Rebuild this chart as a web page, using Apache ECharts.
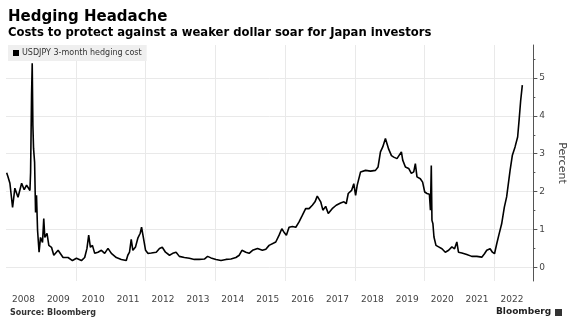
<!DOCTYPE html>
<html>
<head>
<meta charset="utf-8">
<script src="https://cdn.jsdelivr.net/npm/echarts@6/dist/echarts.min.js"></script>
<style>
html,body{margin:0;padding:0;background:#fff;}
#chart{width:575px;height:329px;}
</style>
</head>
<body>
<div id="chart"></div>
<script>
// ---- Data ----
const seriesName = 'USDJPY 3-month hedging cost';
const dates = [
'2008-01-08','2008-01-21','2008-02-11','2008-03-10','2008-04-03','2008-05-06','2008-06-13','2008-07-10','2008-08-04','2008-09-08',
'2008-09-15','2008-09-25','2008-10-02','2008-10-09','2008-10-16','2008-10-27','2008-11-06','2008-11-16','2008-11-27','2008-12-13',
'2008-12-28','2009-01-18','2009-01-31','2009-02-11','2009-03-06','2009-03-25','2009-04-22','2009-05-16','2009-06-30','2009-08-21',
'2009-10-12','2009-11-27','2010-01-08','2010-03-01','2010-04-04','2010-04-28','2010-05-16','2010-06-03','2010-06-24','2010-07-18',
'2010-08-21','2010-09-26','2010-10-30','2010-12-04','2011-01-08','2011-03-01','2011-04-22','2011-06-13','2011-06-29','2011-07-17',
'2011-08-04','2011-08-21','2011-09-18','2011-10-12','2011-11-06','2011-11-20','2011-12-10','2012-01-01','2012-01-25','2012-03-01',
'2012-04-22','2012-05-26','2012-06-24','2012-07-28','2012-09-08','2012-10-12','2012-11-16','2012-12-20','2013-02-11','2013-04-04',
'2013-05-26','2013-07-17','2013-09-08','2013-10-12','2013-11-16','2014-01-08','2014-03-01','2014-04-22','2014-06-13','2014-08-04',
'2014-09-08','2014-10-06','2014-11-16','2014-12-20','2015-01-25','2015-03-18','2015-05-08','2015-06-13','2015-07-17','2015-08-04',
'2015-09-25','2015-10-30','2015-11-27','2015-12-20','2016-01-14','2016-02-11','2016-03-17','2016-04-22','2016-05-26','2016-06-29',
'2016-08-03','2016-09-08','2016-10-12','2016-11-09','2016-12-03','2017-01-08','2017-01-31','2017-03-01','2017-03-28','2017-05-08',
'2017-06-19','2017-08-04','2017-09-08','2017-10-02','2017-10-23','2017-11-27','2017-12-20','2018-01-08','2018-01-25','2018-03-01',
'2018-04-22','2018-06-13','2018-08-04','2018-08-31','2018-09-25','2018-10-19','2018-11-16','2018-12-20','2019-01-18','2019-02-11',
'2019-03-17','2019-04-04','2019-05-02','2019-05-16','2019-06-13','2019-07-17','2019-08-14','2019-09-08','2019-09-25','2019-10-12',
'2019-11-16','2019-12-10','2020-01-01','2020-01-25','2020-02-19','2020-03-01','2020-03-10','2020-03-17','2020-03-27','2020-04-07',
'2020-04-28','2020-05-26','2020-06-30','2020-08-04','2020-09-08','2020-10-12','2020-11-09','2020-12-03','2020-12-20','2021-01-25',
'2021-03-17','2021-05-08','2021-06-30','2021-08-21','2021-09-18','2021-10-12','2021-11-16','2021-12-10','2022-01-01','2022-01-25',
'2022-02-19','2022-03-17','2022-04-14','2022-05-08','2022-05-26','2022-06-13','2022-07-07','2022-08-04','2022-08-31','2022-09-15',
'2022-10-02','2022-10-19'
];
const hedgingCost = [
2.50,2.40,2.22,1.58,2.09,1.85,2.22,2.05,2.17,2.03,
2.51,4.54,5.39,3.75,3.14,2.77,1.45,1.90,0.98,0.40,
0.79,0.66,1.29,0.79,0.90,0.58,0.53,0.32,0.45,0.26,
0.26,0.18,0.24,0.18,0.26,0.50,0.85,0.53,0.58,0.37,
0.40,0.45,0.37,0.50,0.37,0.26,0.21,0.18,0.32,0.40,
0.74,0.45,0.54,0.77,0.90,1.06,0.77,0.45,0.37,0.38,
0.40,0.50,0.53,0.40,0.32,0.37,0.40,0.29,0.26,0.24,
0.21,0.21,0.22,0.29,0.25,0.21,0.18,0.21,0.22,0.26,
0.32,0.45,0.40,0.37,0.45,0.50,0.45,0.48,0.58,0.54,
0.67,0.85,1.02,0.93,0.85,1.06,1.08,1.06,1.20,1.37,
1.55,1.55,1.64,1.73,1.88,1.73,1.51,1.61,1.42,1.55,
1.64,1.70,1.73,1.68,1.95,2.03,2.21,1.90,2.17,2.52,
2.56,2.54,2.56,2.65,3.05,3.18,3.40,3.12,2.95,2.91,
2.87,2.87,3.05,2.83,2.65,2.61,2.48,2.52,2.74,2.39,
2.34,2.25,1.99,1.95,1.93,1.51,2.69,1.24,1.15,0.80,
0.58,0.54,0.49,0.40,0.45,0.54,0.49,0.67,0.40,0.38,
0.34,0.29,0.29,0.27,0.36,0.45,0.49,0.40,0.36,0.63,
0.89,1.15,1.59,1.86,2.21,2.56,2.96,3.18,3.44,3.88,
4.41,4.81
];
const xTickLabels = ['2008','2009','2010','2011','2012','2013','2014','2015','2016','2017','2018','2019','2020','2021','2022'];
const xGridYears = [2010,2012,2014,2016,2018,2020,2022];
const yTickLabels = [0,1,2,3,4,5];
const yMinorTicks = [0.5,1.5,2.5,3.5,4.5,5.5];

// ---- helpers ----
function toYear(s){
  const d = new Date(s + 'T00:00:00Z');
  const y = d.getUTCFullYear();
  const a = Date.UTC(y,0,1), b = Date.UTC(y+1,0,1);
  return y + (d.getTime()-a)/(b-a);
}
const lineData = dates.map((d,i)=>[toYear(d), hedgingCost[i]]);
const FONT = '"DejaVu Sans", Verdana, sans-serif';

const chart = echarts.init(document.getElementById('chart'), null, {renderer:'canvas'});
chart.setOption({
  animation:false,
  backgroundColor:'#ffffff',
  grid:{left:6, right:40, top:45, bottom:48, containLabel:false},
  legend:{
    show:true, left:8, top:45, padding:[4,5,4,5],
    backgroundColor:'#efefef',
    icon:'rect', itemWidth:6, itemHeight:6, itemGap:4,
    textStyle:{fontFamily:FONT, fontSize:8, color:'#333', padding:[0,0,0,-2]},
    data:[seriesName]
  },
  xAxis:{
    type:'value', min:2008, max:2023.114,
    axisLine:{show:false},
    axisTick:{show:false, customValues:xGridYears},
    splitLine:{show:true, lineStyle:{color:'#e9e9e9', width:1}},
    axisLabel:{
      customValues: xTickLabels.map(t=>Number(t)+0.5),
      formatter:(v)=>String(Math.floor(v)),
      fontFamily:FONT, fontSize:9, color:'#444', margin:14
    }
  },
  yAxis:[{
    type:'value', position:'right', min:-0.36, max:5.87,
    axisLine:{show:true, lineStyle:{color:'#555', width:1}},
    axisTick:{show:true, customValues:yTickLabels, length:4, lineStyle:{color:'#555'}},
    axisLabel:{customValues:yTickLabels, fontFamily:FONT, fontSize:9, color:'#444', margin:6},
    splitLine:{show:true, lineStyle:{color:'#e9e9e9', width:1}},
    name:'Percent', nameLocation:'middle', nameRotate:-90, nameGap:19,
    nameTextStyle:{fontFamily:FONT, fontSize:11, color:'#444'}
  },{
    type:'value', position:'right', min:-0.36, max:5.87,
    axisLine:{show:false},
    axisTick:{show:true, customValues:yMinorTicks, length:2, lineStyle:{color:'#555'}},
    axisLabel:{show:false},
    splitLine:{show:false}
  }],
  series:[{
    name:seriesName, type:'line', yAxisIndex:0,
    data:lineData, showSymbol:false, symbol:'none',
    itemStyle:{color:'#000'},
    lineStyle:{color:'#000', width:1.6}
  }],
  graphic:[
    {type:'text', x:8, y:17.5, style:{text:'Hedging Headache', font:'bold 15px ' + FONT, fill:'#000', verticalAlign:'middle'}},
    {type:'text', x:8, y:33.3, style:{text:'Costs to protect against a weaker dollar soar for Japan investors', font:'bold 11.6px ' + FONT, fill:'#000', verticalAlign:'middle'}},
    {type:'text', x:10, y:313, style:{text:'Source: Bloomberg', font:'bold 8px ' + FONT, fill:'#333', verticalAlign:'middle'}},
    {type:'text', x:496, y:312, style:{text:'Bloomberg', font:'bold 9px ' + FONT, fill:'#222', verticalAlign:'middle'}},
    {type:'rect', shape:{x:555, y:309, width:7, height:7}, style:{fill:'#333'}}
  ]
});
</script>
</body>
</html>
